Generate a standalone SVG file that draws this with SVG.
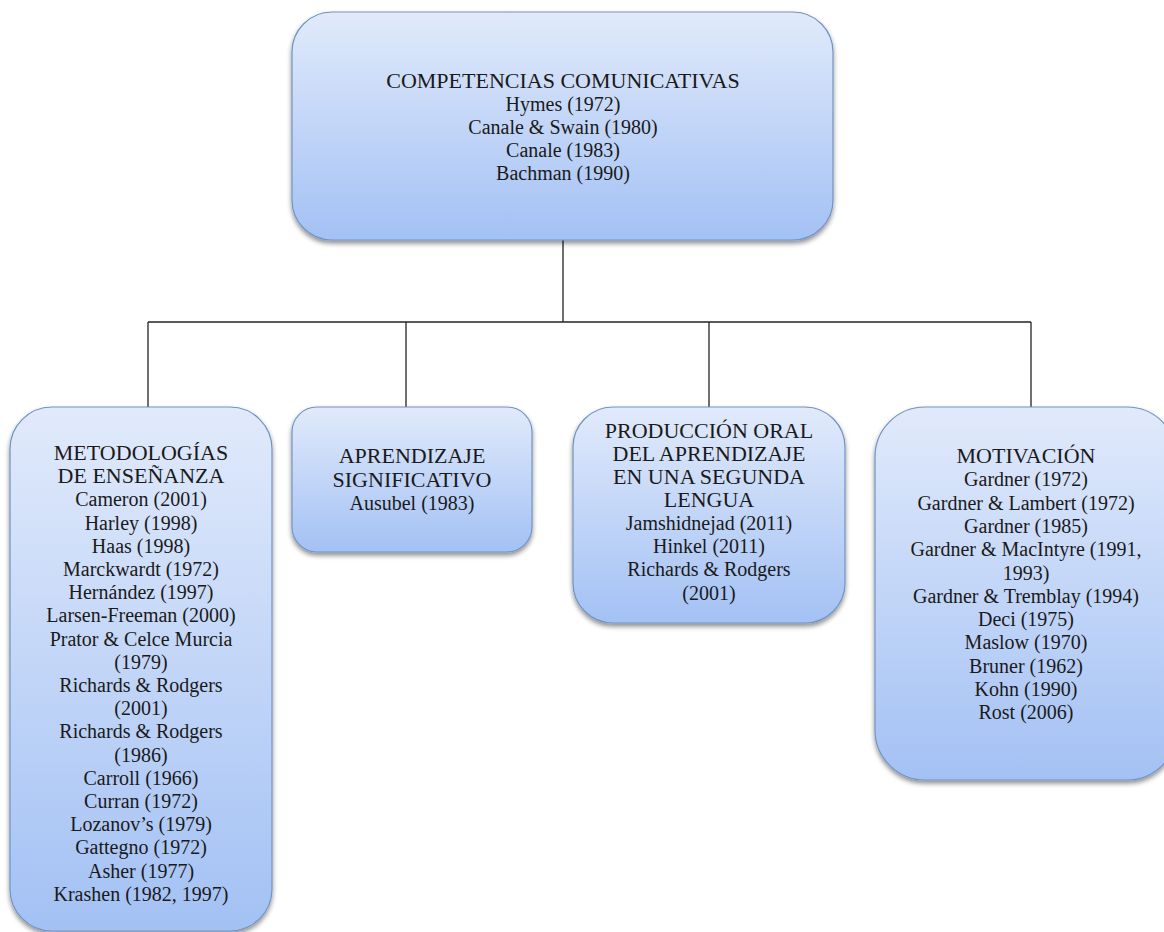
<svg xmlns="http://www.w3.org/2000/svg" width="1164" height="932" viewBox="0 0 1164 932">
<style>
.box{fill:url(#g);stroke:#7094c4;stroke-width:1.2;filter:url(#sh)}
.h{font-family:"Liberation Serif","Times New Roman",serif;font-size:22px;fill:#1a1a1a;text-anchor:middle}
.n{font-family:"Liberation Serif","Times New Roman",serif;font-size:20px;fill:#1a1a1a;text-anchor:middle}
.c{stroke:#222;stroke-width:1.3;fill:none}
</style>
<defs>
<linearGradient id="g" x1="0" y1="0" x2="0" y2="1">
<stop offset="0" stop-color="#e1eafb"/>
<stop offset="1" stop-color="#a3c1f4"/>
</linearGradient>
<filter id="sh" x="-10%" y="-10%" width="120%" height="125%">
<feGaussianBlur in="SourceAlpha" stdDeviation="2.5"/>
<feOffset dx="0" dy="3" result="b"/>
<feComponentTransfer><feFuncA type="linear" slope="0.45"/></feComponentTransfer>
<feMerge><feMergeNode/><feMergeNode in="SourceGraphic"/></feMerge>
</filter>
</defs>
<rect width="1164" height="932" fill="#ffffff"/>
<g id="connectors">
<line class="c" x1="563" y1="240" x2="563" y2="322"/>
<line class="c" x1="148" y1="322" x2="1031" y2="322"/>
<line class="c" x1="148" y1="322" x2="148" y2="407"/>
<line class="c" x1="406" y1="322" x2="406" y2="407"/>
<line class="c" x1="709" y1="322" x2="709" y2="407"/>
<line class="c" x1="1031" y1="322" x2="1031" y2="407"/>
</g>
<g id="competencias">
<rect class="box" x="292" y="12" width="541" height="228" rx="40"/>
<text class="h" x="563" y="88">COMPETENCIAS COMUNICATIVAS</text>
<text class="n" x="563" y="111">Hymes (1972)</text>
<text class="n" x="563" y="134">Canale &amp; Swain (1980)</text>
<text class="n" x="563" y="157">Canale (1983)</text>
<text class="n" x="563" y="180">Bachman (1990)</text>
</g>
<g id="metodologias">
<rect class="box" x="10" y="407" width="262" height="524" rx="42"/>
<text class="h" x="141" y="460">METODOLOGÍAS</text>
<text class="h" x="141" y="483">DE ENSEÑANZA</text>
<text class="n" x="141" y="506.4">Cameron (2001)</text>
<text class="n" x="141" y="529.6">Harley (1998)</text>
<text class="n" x="141" y="552.8">Haas (1998)</text>
<text class="n" x="141" y="576">Marckwardt (1972)</text>
<text class="n" x="141" y="599.2">Hernández (1997)</text>
<text class="n" x="141" y="622.4">Larsen-Freeman (2000)</text>
<text class="n" x="141" y="645.6">Prator &amp; Celce Murcia</text>
<text class="n" x="141" y="668.8">(1979)</text>
<text class="n" x="141" y="692">Richards &amp; Rodgers</text>
<text class="n" x="141" y="715.2">(2001)</text>
<text class="n" x="141" y="738.4">Richards &amp; Rodgers</text>
<text class="n" x="141" y="761.6">(1986)</text>
<text class="n" x="141" y="784.8">Carroll (1966)</text>
<text class="n" x="141" y="808">Curran (1972)</text>
<text class="n" x="141" y="831.2">Lozanov’s (1979)</text>
<text class="n" x="141" y="854.4">Gattegno (1972)</text>
<text class="n" x="141" y="877.6">Asher (1977)</text>
<text class="n" x="141" y="900.8">Krashen (1982, 1997)</text>
</g>
<g id="aprendizaje">
<rect class="box" x="292" y="407" width="240" height="145" rx="25"/>
<text class="h" x="412" y="463">APRENDIZAJE</text>
<text class="h" x="412" y="486.5">SIGNIFICATIVO</text>
<text class="n" x="412" y="510">Ausubel (1983)</text>
</g>
<g id="produccion">
<rect class="box" x="573" y="407" width="272" height="216" rx="40"/>
<text class="h" x="709" y="438">PRODUCCIÓN ORAL</text>
<text class="h" x="709" y="461">DEL APRENDIZAJE</text>
<text class="h" x="709" y="484">EN UNA SEGUNDA</text>
<text class="h" x="709" y="507">LENGUA</text>
<text class="n" x="709" y="530">Jamshidnejad (2011)</text>
<text class="n" x="709" y="553">Hinkel (2011)</text>
<text class="n" x="709" y="576">Richards &amp; Rodgers</text>
<text class="n" x="709" y="600">(2001)</text>
</g>
<g id="motivacion">
<rect class="box" x="875" y="407" width="302" height="373" rx="50"/>
<text class="h" x="1026" y="463">MOTIVACIÓN</text>
<text class="n" x="1026" y="486.3">Gardner (1972)</text>
<text class="n" x="1026" y="509.6">Gardner &amp; Lambert (1972)</text>
<text class="n" x="1026" y="532.9">Gardner (1985)</text>
<text class="n" x="1026" y="556.2">Gardner &amp; MacIntyre (1991,</text>
<text class="n" x="1026" y="579.5">1993)</text>
<text class="n" x="1026" y="602.8">Gardner &amp; Tremblay (1994)</text>
<text class="n" x="1026" y="626.1">Deci (1975)</text>
<text class="n" x="1026" y="649.4">Maslow (1970)</text>
<text class="n" x="1026" y="672.7">Bruner (1962)</text>
<text class="n" x="1026" y="696">Kohn (1990)</text>
<text class="n" x="1026" y="719.3">Rost (2006)</text>
</g>
</svg>
